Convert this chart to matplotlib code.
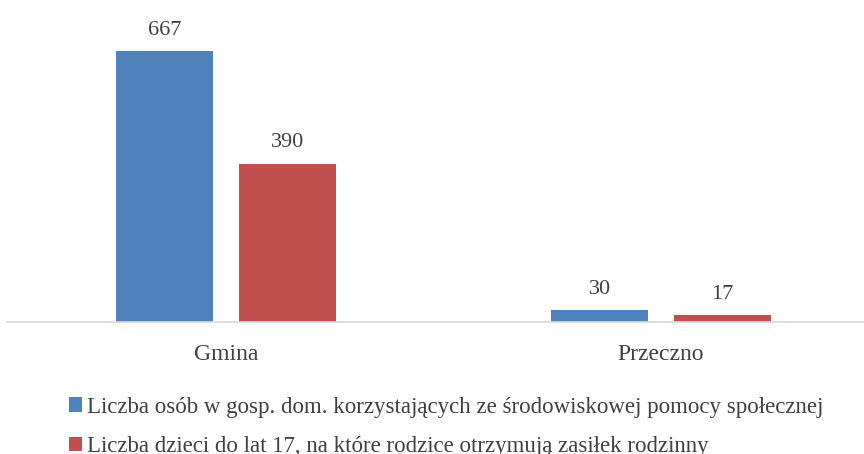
import matplotlib
matplotlib.use("Agg")
import matplotlib.pyplot as plt
import numpy as np

categories = ["Gmina", "Przeczno"]
series_names = [
    "Liczba osób w gosp. dom. korzystających ze środowiskowej pomocy społecznej",
    "Liczba dzieci do lat 17, na które rodzice otrzymują zasiłek rodzinny",
]
series_values = [
    [667, 30],
    [390, 17],
]
colors = ["#4f81bd", "#c0504d"]

plt.rcParams['font.family'] = ['Liberation Serif', 'DejaVu Serif']

fig = plt.figure(figsize=(8.64, 4.54), dpi=100)
ax = fig.add_axes([7/864, (454-322)/454, 857/864, 300.7/454])

x = np.arange(len(categories))
width = 0.223
offsets = [-0.141, 0.141]
for vals, name, col, off in zip(series_values, series_names, colors, offsets):
    bars = ax.bar(x + off, vals, width, color=col, label=name)
    for b, v in zip(bars, vals):
        ax.annotate(str(v), (b.get_x() + b.get_width()/2, v), xytext=(0, 8),
                    textcoords="offset points", ha="center", va="bottom",
                    fontsize=16, color="#404040")

ax.set_xlim(-0.503, 1.467)
ax.set_ylim(0, 740)
ax.set_yticks([])
ax.set_xticks(x)
ax.set_xticklabels(categories, fontsize=17, color="#404040")
ax.tick_params(axis="x", length=0, pad=16)
for s in ["top", "right", "left"]:
    ax.spines[s].set_visible(False)
ax.spines["bottom"].set_color("#d9d9d9")
ax.spines["bottom"].set_linewidth(1.2)

handles, labels = ax.get_legend_handles_labels()
fig.legend(handles, labels, loc="upper left", bbox_to_anchor=(48/864, 1 - 376/454),
           frameon=False, fontsize=16.5, handlelength=0.57, handleheight=0.57,
           handletextpad=0.22, labelspacing=0.82, labelcolor="#404040")

fig.savefig("out.png", dpi=100)
